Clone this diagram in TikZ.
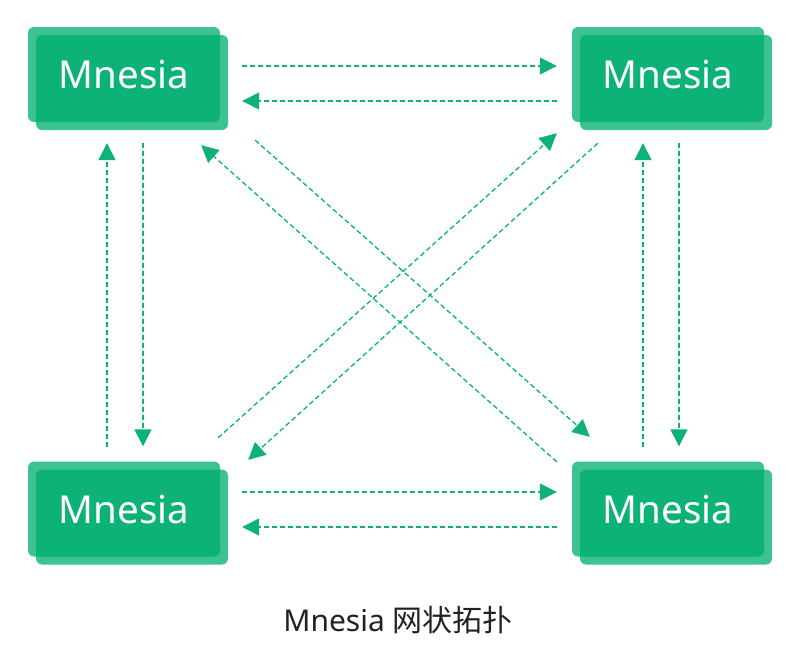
\documentclass[tikz,border=0pt]{standalone}
\usepackage{fontspec}
\setmainfont{Noto Sans}
\newfontfamily\cjk{Noto Sans CJK SC}
\usetikzlibrary{calc,arrows.meta}
\definecolor{mgreen}{HTML}{0DB277}
\definecolor{mlight}{HTML}{3DC390}
\definecolor{capgray}{HTML}{222222}
\tikzset{
  mbox/.style={minimum width=192pt,minimum height=95pt,inner sep=0pt,text=white,font=\fontsize{38.5}{42}\selectfont},
  link/.style={-{Triangle[length=17pt,width=17pt]},mgreen,line width=1.3pt,dash pattern=on 5pt off 3pt},
}
\begin{document}
\begin{tikzpicture}[x=1pt,y=-1pt]
\useasboundingbox (0,0) rectangle (804,664);
\foreach \n/\x/\y in {tl/124/74.5,tr/668/74.5,bl/124/509,br/668/509} {
  \fill[mlight,rounded corners=6pt] (\x-96,\y-47.5) rectangle ++(192,95);
  \fill[mlight,rounded corners=6pt] (\x-88,\y-39.5) rectangle ++(192,95);
  \begin{scope}
    \clip[rounded corners=6pt] (\x-96,\y-47.5) rectangle ++(192,95);
    \fill[mgreen,rounded corners=6pt] (\x-88,\y-39.5) rectangle ++(192,95);
  \end{scope}
  \node[mbox] (\n) at (\x,\y) {Mnesia};
}
% horizontal
\draw[link] ($(tl.east)+(22,-8.5)$) -- ($(tr.west)+(-15,-8.5)$);
\draw[link] ($(tr.west)+(-15,26.5)$) -- ($(tl.east)+(22,26.5)$);
\draw[link] ($(bl.east)+(22,-17)$) -- ($(br.west)+(-15,-17)$);
\draw[link] ($(br.west)+(-15,18)$) -- ($(bl.east)+(22,18)$);
% vertical
\draw[link] ($(bl.north)+(-17,-14)$) -- ($(tl.south)+(-17,21)$);
\draw[link] ($(tl.south)+(19,21)$) -- ($(bl.north)+(19,-15)$);
\draw[link] ($(br.north)+(-25,-14)$) -- ($(tr.south)+(-25,21)$);
\draw[link] ($(tr.south)+(11,21)$) -- ($(br.north)+(11,-15)$);
% diagonal
\draw[link] ($(tl.south east)+(35,18)$) -- ($(br.north west)+(18,-24.5)$);
\draw[link] ($(br.north west)+(-15,0.5)$) -- ($(tl.south east)+(-19,23)$);
\draw[link] ($(bl.north east)+(-2,-23.5)$) -- ($(tr.south west)+(-15,11)$);
\draw[link] ($(tr.south west)+(26,21)$) -- ($(bl.north east)+(28,-1.5)$);
\node[text=capgray,font=\fontsize{30}{34}\selectfont] (cap) at (398,620) {Mnesia {\cjk 网状拓扑}};
\end{tikzpicture}
\end{document}
